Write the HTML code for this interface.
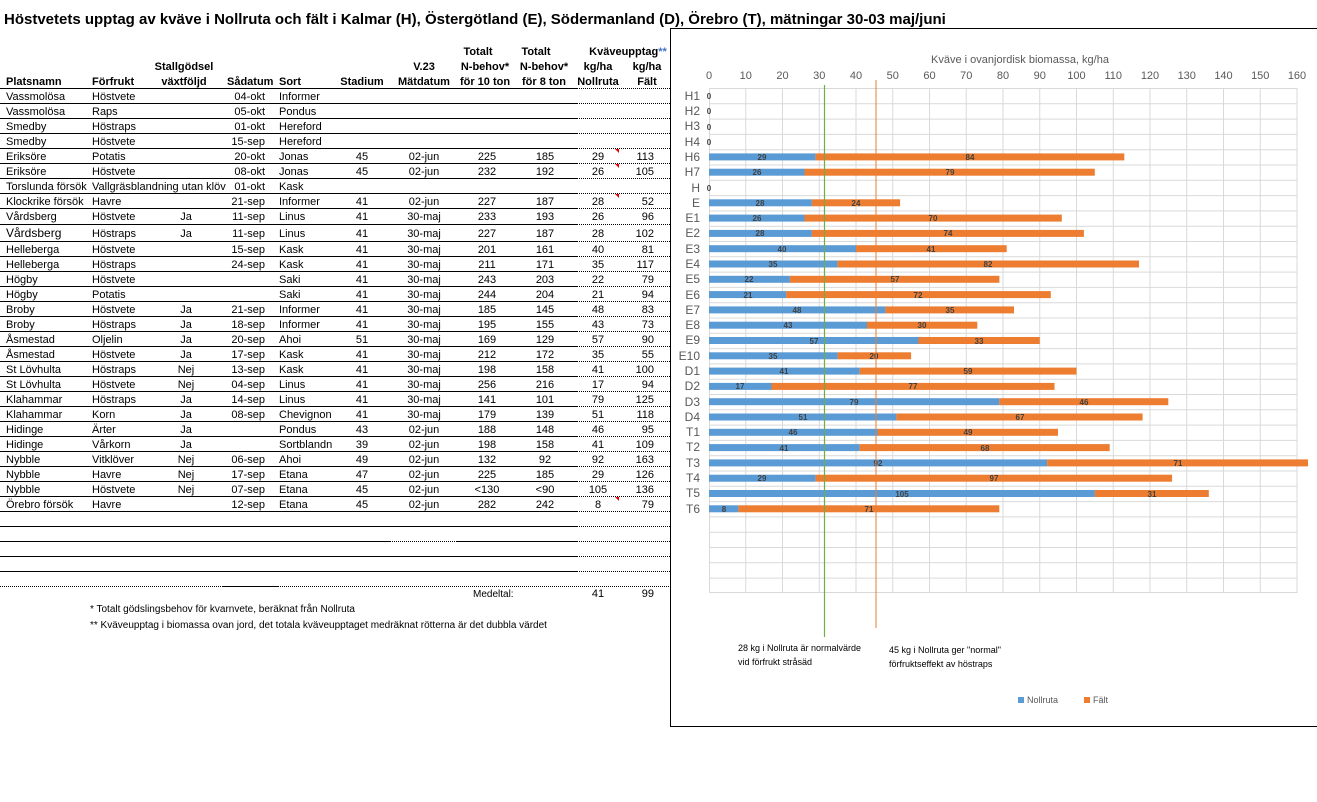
<!DOCTYPE html>
<html><head><meta charset="utf-8"><style>
html,body{margin:0;padding:0;background:#fff}
svg{display:block;font-family:"Liberation Sans",Arial,sans-serif}
.t{font-size:11px;fill:#000}
.h{font-size:11px;font-weight:bold;fill:#000}
.c{text-anchor:middle}
.r{text-anchor:end}
.ax{font-size:11px;fill:#595959}
.cat{font-size:12px;fill:#595959;text-anchor:end}
.bl{font-size:8px;font-weight:bold;fill:#404040;text-anchor:middle}
.an{font-size:9px;fill:#000}
.fn{font-size:10px;fill:#000}
</style></head><body>
<svg width="1317" height="802" viewBox="0 0 1317 802" xmlns="http://www.w3.org/2000/svg">
<text x="4" y="24" style="font-size:15px;font-weight:bold">Höstvetets upptag av kväve i Nollruta och fält i Kalmar (H), Östergötland (E), Södermanland (D), Örebro (T), mätningar 30-03 maj/juni</text>

<g class="h">
<text x="6" y="85">Platsnamn</text>
<text x="92" y="85">Förfrukt</text>
<text x="184" y="70" class="c">Stallgödsel</text>
<text x="184" y="85" class="c">växtföljd</text>
<text x="227" y="85">Sådatum</text>
<text x="279" y="85">Sort</text>
<text x="362" y="85" class="c">Stadium</text>
<text x="424" y="70" class="c">V.23</text>
<text x="424" y="85" class="c">Mätdatum</text>
<text x="478" y="55" class="c">Totalt</text>
<text x="485" y="70" class="c">N-behov*</text>
<text x="485" y="85" class="c">för 10 ton</text>
<text x="536" y="55" class="c">Totalt</text>
<text x="544" y="70" class="c">N-behov*</text>
<text x="544" y="85" class="c">för 8 ton</text>
<text x="628" y="55" class="c">Kväveupptag<tspan fill="#4472c4">**</tspan></text>
<text x="598" y="70" class="c">kg/ha</text>
<text x="598" y="85" class="c">Nollruta</text>
<text x="647" y="70" class="c">kg/ha</text>
<text x="647" y="85" class="c">Fält</text>
</g>

<g stroke="#000" stroke-width="1">
<line x1="0" y1="88.5" x2="577" y2="88.5"/><line x1="0" y1="103.5" x2="577" y2="103.5"/><line x1="0" y1="118.5" x2="577" y2="118.5"/><line x1="0" y1="133.5" x2="577" y2="133.5"/><line x1="0" y1="148.5" x2="577" y2="148.5"/><line x1="0" y1="163.5" x2="577" y2="163.5"/><line x1="0" y1="178.5" x2="577" y2="178.5"/><line x1="0" y1="193.5" x2="577" y2="193.5"/><line x1="0" y1="208.5" x2="577" y2="208.5"/><line x1="0" y1="224.5" x2="577" y2="224.5"/><line x1="0" y1="241.5" x2="577" y2="241.5"/><line x1="0" y1="256.5" x2="577" y2="256.5"/><line x1="0" y1="271.5" x2="577" y2="271.5"/><line x1="0" y1="286.5" x2="577" y2="286.5"/><line x1="0" y1="301.5" x2="577" y2="301.5"/><line x1="0" y1="316.5" x2="577" y2="316.5"/><line x1="0" y1="331.5" x2="577" y2="331.5"/><line x1="0" y1="346.5" x2="577" y2="346.5"/><line x1="0" y1="361.5" x2="577" y2="361.5"/><line x1="0" y1="376.5" x2="577" y2="376.5"/><line x1="0" y1="391.5" x2="577" y2="391.5"/><line x1="0" y1="406.5" x2="577" y2="406.5"/><line x1="0" y1="421.5" x2="577" y2="421.5"/><line x1="0" y1="436.5" x2="577" y2="436.5"/><line x1="0" y1="451.5" x2="577" y2="451.5"/><line x1="0" y1="466.5" x2="577" y2="466.5"/><line x1="0" y1="481.5" x2="577" y2="481.5"/><line x1="0" y1="496.5" x2="577" y2="496.5"/><line x1="0" y1="511.5" x2="577" y2="511.5"/><line x1="0" y1="526.5" x2="577" y2="526.5"/><line x1="0" y1="541.5" x2="390" y2="541.5"/><line x1="456" y1="541.5" x2="577" y2="541.5"/><line x1="0" y1="556.5" x2="577" y2="556.5"/><line x1="0" y1="571.5" x2="577" y2="571.5"/><line x1="223" y1="586.5" x2="278" y2="586.5"/>
</g>
<g stroke="#000" stroke-width="1" stroke-dasharray="1,1">
<line x1="577" y1="88.5" x2="670" y2="88.5"/><line x1="577" y1="103.5" x2="670" y2="103.5"/><line x1="577" y1="118.5" x2="670" y2="118.5"/><line x1="577" y1="133.5" x2="670" y2="133.5"/><line x1="577" y1="148.5" x2="670" y2="148.5"/><line x1="577" y1="163.5" x2="670" y2="163.5"/><line x1="577" y1="178.5" x2="670" y2="178.5"/><line x1="577" y1="193.5" x2="670" y2="193.5"/><line x1="577" y1="208.5" x2="670" y2="208.5"/><line x1="577" y1="224.5" x2="670" y2="224.5"/><line x1="577" y1="241.5" x2="670" y2="241.5"/><line x1="577" y1="256.5" x2="670" y2="256.5"/><line x1="577" y1="271.5" x2="670" y2="271.5"/><line x1="577" y1="286.5" x2="670" y2="286.5"/><line x1="577" y1="301.5" x2="670" y2="301.5"/><line x1="577" y1="316.5" x2="670" y2="316.5"/><line x1="577" y1="331.5" x2="670" y2="331.5"/><line x1="577" y1="346.5" x2="670" y2="346.5"/><line x1="577" y1="361.5" x2="670" y2="361.5"/><line x1="577" y1="376.5" x2="670" y2="376.5"/><line x1="577" y1="391.5" x2="670" y2="391.5"/><line x1="577" y1="406.5" x2="670" y2="406.5"/><line x1="577" y1="421.5" x2="670" y2="421.5"/><line x1="577" y1="436.5" x2="670" y2="436.5"/><line x1="577" y1="451.5" x2="670" y2="451.5"/><line x1="577" y1="466.5" x2="670" y2="466.5"/><line x1="577" y1="481.5" x2="670" y2="481.5"/><line x1="577" y1="496.5" x2="670" y2="496.5"/><line x1="577" y1="511.5" x2="670" y2="511.5"/><line x1="577" y1="526.5" x2="670" y2="526.5"/><line x1="390" y1="541.5" x2="456" y2="541.5"/><line x1="577" y1="541.5" x2="670" y2="541.5"/><line x1="577" y1="556.5" x2="670" y2="556.5"/><line x1="577" y1="571.5" x2="670" y2="571.5"/><line x1="0" y1="586.5" x2="223" y2="586.5"/><line x1="278" y1="586.5" x2="670" y2="586.5"/>
</g>
<g fill="#e00"><path d="M615 149h4v4z"/><path d="M615 164h4v4z"/><path d="M615 194h4v4z"/><path d="M615 497h4v4z"/></g>

<g class="t">
<text x="6" y="100">Vassmolösa</text><text x="92" y="100">Höstvete</text><text x="265" y="100" class="r">04-okt</text><text x="279" y="100">Informer</text>
<text x="6" y="115">Vassmolösa</text><text x="92" y="115">Raps</text><text x="265" y="115" class="r">05-okt</text><text x="279" y="115">Pondus</text>
<text x="6" y="130">Smedby</text><text x="92" y="130">Höstraps</text><text x="265" y="130" class="r">01-okt</text><text x="279" y="130">Hereford</text>
<text x="6" y="145">Smedby</text><text x="92" y="145">Höstvete</text><text x="265" y="145" class="r">15-sep</text><text x="279" y="145">Hereford</text>
<text x="6" y="160">Eriksöre</text><text x="92" y="160">Potatis</text><text x="265" y="160" class="r">20-okt</text><text x="279" y="160">Jonas</text><text x="362" y="160" class="c">45</text><text x="424" y="160" class="c">02-jun</text><text x="487" y="160" class="c">225</text><text x="545" y="160" class="c">185</text><text x="598" y="160" class="c">29</text><text x="654" y="160" class="r">113</text>
<text x="6" y="175">Eriksöre</text><text x="92" y="175">Höstvete</text><text x="265" y="175" class="r">08-okt</text><text x="279" y="175">Jonas</text><text x="362" y="175" class="c">45</text><text x="424" y="175" class="c">02-jun</text><text x="487" y="175" class="c">232</text><text x="545" y="175" class="c">192</text><text x="598" y="175" class="c">26</text><text x="654" y="175" class="r">105</text>
<text x="6" y="190">Torslunda försök</text><text x="92" y="190">Vallgräsblandning utan klöv</text><text x="265" y="190" class="r">01-okt</text><text x="279" y="190">Kask</text>
<text x="6" y="205">Klockrike försök</text><text x="92" y="205">Havre</text><text x="265" y="205" class="r">21-sep</text><text x="279" y="205">Informer</text><text x="362" y="205" class="c">41</text><text x="424" y="205" class="c">02-jun</text><text x="487" y="205" class="c">227</text><text x="545" y="205" class="c">187</text><text x="598" y="205" class="c">28</text><text x="654" y="205" class="r">52</text>
<text x="6" y="220">Vårdsberg</text><text x="92" y="220">Höstvete</text><text x="186" y="220" class="c">Ja</text><text x="265" y="220" class="r">11-sep</text><text x="279" y="220">Linus</text><text x="362" y="220" class="c">41</text><text x="424" y="220" class="c">30-maj</text><text x="487" y="220" class="c">233</text><text x="545" y="220" class="c">193</text><text x="598" y="220" class="c">26</text><text x="654" y="220" class="r">96</text>
<text x="6" y="237" style="font-size:12px">Vårdsberg</text><text x="92" y="237">Höstraps</text><text x="186" y="237" class="c">Ja</text><text x="265" y="237" class="r">11-sep</text><text x="279" y="237">Linus</text><text x="362" y="237" class="c">41</text><text x="424" y="237" class="c">30-maj</text><text x="487" y="237" class="c">227</text><text x="545" y="237" class="c">187</text><text x="598" y="237" class="c">28</text><text x="654" y="237" class="r">102</text>
<text x="6" y="253">Helleberga</text><text x="92" y="253">Höstvete</text><text x="265" y="253" class="r">15-sep</text><text x="279" y="253">Kask</text><text x="362" y="253" class="c">41</text><text x="424" y="253" class="c">30-maj</text><text x="487" y="253" class="c">201</text><text x="545" y="253" class="c">161</text><text x="598" y="253" class="c">40</text><text x="654" y="253" class="r">81</text>
<text x="6" y="268">Helleberga</text><text x="92" y="268">Höstraps</text><text x="265" y="268" class="r">24-sep</text><text x="279" y="268">Kask</text><text x="362" y="268" class="c">41</text><text x="424" y="268" class="c">30-maj</text><text x="487" y="268" class="c">211</text><text x="545" y="268" class="c">171</text><text x="598" y="268" class="c">35</text><text x="654" y="268" class="r">117</text>
<text x="6" y="283">Högby</text><text x="92" y="283">Höstvete</text><text x="279" y="283">Saki</text><text x="362" y="283" class="c">41</text><text x="424" y="283" class="c">30-maj</text><text x="487" y="283" class="c">243</text><text x="545" y="283" class="c">203</text><text x="598" y="283" class="c">22</text><text x="654" y="283" class="r">79</text>
<text x="6" y="298">Högby</text><text x="92" y="298">Potatis</text><text x="279" y="298">Saki</text><text x="362" y="298" class="c">41</text><text x="424" y="298" class="c">30-maj</text><text x="487" y="298" class="c">244</text><text x="545" y="298" class="c">204</text><text x="598" y="298" class="c">21</text><text x="654" y="298" class="r">94</text>
<text x="6" y="313">Broby</text><text x="92" y="313">Höstvete</text><text x="186" y="313" class="c">Ja</text><text x="265" y="313" class="r">21-sep</text><text x="279" y="313">Informer</text><text x="362" y="313" class="c">41</text><text x="424" y="313" class="c">30-maj</text><text x="487" y="313" class="c">185</text><text x="545" y="313" class="c">145</text><text x="598" y="313" class="c">48</text><text x="654" y="313" class="r">83</text>
<text x="6" y="328">Broby</text><text x="92" y="328">Höstraps</text><text x="186" y="328" class="c">Ja</text><text x="265" y="328" class="r">18-sep</text><text x="279" y="328">Informer</text><text x="362" y="328" class="c">41</text><text x="424" y="328" class="c">30-maj</text><text x="487" y="328" class="c">195</text><text x="545" y="328" class="c">155</text><text x="598" y="328" class="c">43</text><text x="654" y="328" class="r">73</text>
<text x="6" y="343">Åsmestad</text><text x="92" y="343">Oljelin</text><text x="186" y="343" class="c">Ja</text><text x="265" y="343" class="r">20-sep</text><text x="279" y="343">Ahoi</text><text x="362" y="343" class="c">51</text><text x="424" y="343" class="c">30-maj</text><text x="487" y="343" class="c">169</text><text x="545" y="343" class="c">129</text><text x="598" y="343" class="c">57</text><text x="654" y="343" class="r">90</text>
<text x="6" y="358">Åsmestad</text><text x="92" y="358">Höstvete</text><text x="186" y="358" class="c">Ja</text><text x="265" y="358" class="r">17-sep</text><text x="279" y="358">Kask</text><text x="362" y="358" class="c">41</text><text x="424" y="358" class="c">30-maj</text><text x="487" y="358" class="c">212</text><text x="545" y="358" class="c">172</text><text x="598" y="358" class="c">35</text><text x="654" y="358" class="r">55</text>
<text x="6" y="373">St Lövhulta</text><text x="92" y="373">Höstraps</text><text x="186" y="373" class="c">Nej</text><text x="265" y="373" class="r">13-sep</text><text x="279" y="373">Kask</text><text x="362" y="373" class="c">41</text><text x="424" y="373" class="c">30-maj</text><text x="487" y="373" class="c">198</text><text x="545" y="373" class="c">158</text><text x="598" y="373" class="c">41</text><text x="654" y="373" class="r">100</text>
<text x="6" y="388">St Lövhulta</text><text x="92" y="388">Höstvete</text><text x="186" y="388" class="c">Nej</text><text x="265" y="388" class="r">04-sep</text><text x="279" y="388">Linus</text><text x="362" y="388" class="c">41</text><text x="424" y="388" class="c">30-maj</text><text x="487" y="388" class="c">256</text><text x="545" y="388" class="c">216</text><text x="598" y="388" class="c">17</text><text x="654" y="388" class="r">94</text>
<text x="6" y="403">Klahammar</text><text x="92" y="403">Höstraps</text><text x="186" y="403" class="c">Ja</text><text x="265" y="403" class="r">14-sep</text><text x="279" y="403">Linus</text><text x="362" y="403" class="c">41</text><text x="424" y="403" class="c">30-maj</text><text x="487" y="403" class="c">141</text><text x="545" y="403" class="c">101</text><text x="598" y="403" class="c">79</text><text x="654" y="403" class="r">125</text>
<text x="6" y="418">Klahammar</text><text x="92" y="418">Korn</text><text x="186" y="418" class="c">Ja</text><text x="265" y="418" class="r">08-sep</text><text x="279" y="418">Chevignon</text><text x="362" y="418" class="c">41</text><text x="424" y="418" class="c">30-maj</text><text x="487" y="418" class="c">179</text><text x="545" y="418" class="c">139</text><text x="598" y="418" class="c">51</text><text x="654" y="418" class="r">118</text>
<text x="6" y="433">Hidinge</text><text x="92" y="433">Ärter</text><text x="186" y="433" class="c">Ja</text><text x="279" y="433">Pondus</text><text x="362" y="433" class="c">43</text><text x="424" y="433" class="c">02-jun</text><text x="487" y="433" class="c">188</text><text x="545" y="433" class="c">148</text><text x="598" y="433" class="c">46</text><text x="654" y="433" class="r">95</text>
<text x="6" y="448">Hidinge</text><text x="92" y="448">Vårkorn</text><text x="186" y="448" class="c">Ja</text><text x="279" y="448">Sortblandn</text><text x="362" y="448" class="c">39</text><text x="424" y="448" class="c">02-jun</text><text x="487" y="448" class="c">198</text><text x="545" y="448" class="c">158</text><text x="598" y="448" class="c">41</text><text x="654" y="448" class="r">109</text>
<text x="6" y="463">Nybble</text><text x="92" y="463">Vitklöver</text><text x="186" y="463" class="c">Nej</text><text x="265" y="463" class="r">06-sep</text><text x="279" y="463">Ahoi</text><text x="362" y="463" class="c">49</text><text x="424" y="463" class="c">02-jun</text><text x="487" y="463" class="c">132</text><text x="545" y="463" class="c">92</text><text x="598" y="463" class="c">92</text><text x="654" y="463" class="r">163</text>
<text x="6" y="478">Nybble</text><text x="92" y="478">Havre</text><text x="186" y="478" class="c">Nej</text><text x="265" y="478" class="r">17-sep</text><text x="279" y="478">Etana</text><text x="362" y="478" class="c">47</text><text x="424" y="478" class="c">02-jun</text><text x="487" y="478" class="c">225</text><text x="545" y="478" class="c">185</text><text x="598" y="478" class="c">29</text><text x="654" y="478" class="r">126</text>
<text x="6" y="493">Nybble</text><text x="92" y="493">Höstvete</text><text x="186" y="493" class="c">Nej</text><text x="265" y="493" class="r">07-sep</text><text x="279" y="493">Etana</text><text x="362" y="493" class="c">45</text><text x="424" y="493" class="c">02-jun</text><text x="487" y="493" class="c">&lt;130</text><text x="545" y="493" class="c">&lt;90</text><text x="598" y="493" class="c">105</text><text x="654" y="493" class="r">136</text>
<text x="6" y="508">Örebro försök</text><text x="92" y="508">Havre</text><text x="265" y="508" class="r">12-sep</text><text x="279" y="508">Etana</text><text x="362" y="508" class="c">45</text><text x="424" y="508" class="c">02-jun</text><text x="487" y="508" class="c">282</text><text x="545" y="508" class="c">242</text><text x="598" y="508" class="c">8</text><text x="654" y="508" class="r">79</text>
<text x="473" y="597" style="font-size:10px">Medeltal:</text><text x="598" y="597" class="c">41</text><text x="654" y="597" class="r">99</text>
</g>
<text x="90" y="612" class="fn">* Totalt gödslingsbehov för  kvarnvete, beräknat från Nollruta</text>
<text x="90" y="628" class="fn">** Kväveupptag i biomassa ovan jord, det totala kväveupptaget medräknat rötterna är det dubbla värdet</text>

<g stroke="#000" stroke-width="1">
<line x1="670.5" y1="28" x2="670.5" y2="727"/><line x1="670" y1="28.5" x2="1317" y2="28.5"/><line x1="670" y1="726.5" x2="1317" y2="726.5"/>
</g>
<text x="1020" y="63" class="ax c">Kväve i ovanjordisk biomassa, kg/ha</text>
<g class="ax c">
<text x="709" y="79">0</text><text x="745.75" y="79">10</text><text x="782.5" y="79">20</text><text x="819.25" y="79">30</text><text x="856" y="79">40</text><text x="892.75" y="79">50</text><text x="929.5" y="79">60</text><text x="966.25" y="79">70</text><text x="1003" y="79">80</text><text x="1039.75" y="79">90</text><text x="1076.5" y="79">100</text><text x="1113.25" y="79">110</text><text x="1150" y="79">120</text><text x="1186.75" y="79">130</text><text x="1223.5" y="79">140</text><text x="1260.25" y="79">150</text><text x="1297" y="79">160</text>
</g>
<g stroke="#d9d9d9" stroke-width="1">
<path d="M709.5 88V593M745.75 88V593M782.5 88V593M819.25 88V593M856 88V593M892.75 88V593M929.5 88V593M966.25 88V593M1003 88V593M1039.75 88V593M1076.5 88V593M1113.25 88V593M1150 88V593M1186.75 88V593M1223.5 88V593M1260.25 88V593M1297 88V593"/>
<path d="M709 88.5H1297M709 103.8H1297M709 119.1H1297M709 134.4H1297M709 149.7H1297M709 165H1297M709 180.3H1297M709 195.6H1297M709 210.9H1297M709 226.2H1297M709 241.5H1297M709 256.8H1297M709 272.1H1297M709 287.4H1297M709 302.7H1297M709 318H1297M709 333.3H1297M709 348.6H1297M709 363.9H1297M709 379.2H1297M709 394.5H1297M709 409.8H1297M709 425.1H1297M709 440.4H1297M709 455.7H1297M709 471H1297M709 486.3H1297M709 501.6H1297M709 516.9H1297M709 532.2H1297M709 547.5H1297M709 562.8H1297M709 578.1H1297M709 592.5H1297"/>
</g>
<g class="cat">
<text x="700" y="100">H1</text><text x="700" y="115">H2</text><text x="700" y="130">H3</text><text x="700" y="146">H4</text><text x="700" y="161">H6</text><text x="700" y="176">H7</text><text x="700" y="192">H</text><text x="700" y="207">E</text><text x="700" y="222">E1</text><text x="700" y="237">E2</text><text x="700" y="253">E3</text><text x="700" y="268">E4</text><text x="700" y="283">E5</text><text x="700" y="299">E6</text><text x="700" y="314">E7</text><text x="700" y="329">E8</text><text x="700" y="344">E9</text><text x="700" y="360">E10</text><text x="700" y="375">D1</text><text x="700" y="390">D2</text><text x="700" y="406">D3</text><text x="700" y="421">D4</text><text x="700" y="436">T1</text><text x="700" y="451">T2</text><text x="700" y="467">T3</text><text x="700" y="482">T4</text><text x="700" y="497">T5</text><text x="700" y="513">T6</text>
</g>
<g fill="#5b9bd5">
<rect x="709" y="153.4" width="106.6" height="7"/><rect x="709" y="168.7" width="95.5" height="7"/><rect x="709" y="199.3" width="102.9" height="7"/><rect x="709" y="214.6" width="95.5" height="7"/><rect x="709" y="229.9" width="102.9" height="7"/><rect x="709" y="245.2" width="147" height="7"/><rect x="709" y="260.5" width="128.6" height="7"/><rect x="709" y="275.8" width="80.9" height="7"/><rect x="709" y="291.1" width="77.2" height="7"/><rect x="709" y="306.4" width="176.4" height="7"/><rect x="709" y="321.7" width="158" height="7"/><rect x="709" y="337" width="209.5" height="7"/><rect x="709" y="352.3" width="128.6" height="7"/><rect x="709" y="367.6" width="150.7" height="7"/><rect x="709" y="382.9" width="62.5" height="7"/><rect x="709" y="398.2" width="290.3" height="7"/><rect x="709" y="413.5" width="187.4" height="7"/><rect x="709" y="428.8" width="169" height="7"/><rect x="709" y="444.1" width="150.7" height="7"/><rect x="709" y="459.4" width="338.1" height="7"/><rect x="709" y="474.7" width="106.6" height="7"/><rect x="709" y="490" width="385.9" height="7"/><rect x="709" y="505.3" width="29.4" height="7"/>
</g>
<g fill="#ed7d31">
<rect x="815.6" y="153.4" width="308.7" height="7"/><rect x="804.5" y="168.7" width="290.3" height="7"/><rect x="811.9" y="199.3" width="88.2" height="7"/><rect x="804.5" y="214.6" width="257.3" height="7"/><rect x="811.9" y="229.9" width="272" height="7"/><rect x="856" y="245.2" width="150.7" height="7"/><rect x="837.6" y="260.5" width="301.4" height="7"/><rect x="789.9" y="275.8" width="209.5" height="7"/><rect x="786.2" y="291.1" width="264.6" height="7"/><rect x="885.4" y="306.4" width="128.6" height="7"/><rect x="867" y="321.7" width="110.3" height="7"/><rect x="918.5" y="337" width="121.3" height="7"/><rect x="837.6" y="352.3" width="73.5" height="7"/><rect x="859.7" y="367.6" width="216.8" height="7"/><rect x="771.5" y="382.9" width="283" height="7"/><rect x="999.3" y="398.2" width="169" height="7"/><rect x="896.4" y="413.5" width="246.2" height="7"/><rect x="878" y="428.8" width="180" height="7"/><rect x="859.7" y="444.1" width="250" height="7"/><rect x="1047.1" y="459.4" width="260.9" height="7"/><rect x="815.6" y="474.7" width="356.5" height="7"/><rect x="1094.9" y="490" width="113.9" height="7"/><rect x="738.4" y="505.3" width="260.9" height="7"/>
</g>
<g class="bl">
<text x="709" y="99">0</text><text x="709" y="114">0</text><text x="709" y="130">0</text><text x="709" y="145">0</text><text x="709" y="191">0</text>
<text x="762" y="160">29</text><text x="970" y="160">84</text>
<text x="757" y="175">26</text><text x="950" y="175">79</text>
<text x="760" y="206">28</text><text x="856" y="206">24</text>
<text x="757" y="221">26</text><text x="933" y="221">70</text>
<text x="760" y="236">28</text><text x="948" y="236">74</text>
<text x="782" y="252">40</text><text x="931" y="252">41</text>
<text x="773" y="267">35</text><text x="988" y="267">82</text>
<text x="749" y="282">22</text><text x="895" y="282">57</text>
<text x="748" y="298">21</text><text x="918" y="298">72</text>
<text x="797" y="313">48</text><text x="950" y="313">35</text>
<text x="788" y="328">43</text><text x="922" y="328">30</text>
<text x="814" y="344">57</text><text x="979" y="344">33</text>
<text x="773" y="359">35</text><text x="874" y="359">20</text>
<text x="784" y="374">41</text><text x="968" y="374">59</text>
<text x="740" y="389">17</text><text x="913" y="389">77</text>
<text x="854" y="405">79</text><text x="1084" y="405">46</text>
<text x="803" y="420">51</text><text x="1020" y="420">67</text>
<text x="793" y="435">46</text><text x="968" y="435">49</text>
<text x="784" y="451">41</text><text x="985" y="451">68</text>
<text x="878" y="466">92</text><text x="1178" y="466">71</text>
<text x="762" y="481">29</text><text x="994" y="481">97</text>
<text x="902" y="497">105</text><text x="1152" y="497">31</text>
<text x="724" y="512">8</text><text x="869" y="512">71</text>
</g>
<line x1="824.5" y1="85" x2="824.5" y2="637" stroke="#70ad47" stroke-width="1.2"/>
<line x1="876" y1="80" x2="876" y2="628" stroke="#ed7d31" stroke-width="1"/>
<text x="738" y="651" class="an">28 kg i Nollruta är normalvärde</text>
<text x="738" y="665" class="an">vid förfrukt stråsäd</text>
<text x="889" y="653" class="an">45 kg i Nollruta ger "normal"</text>
<text x="889" y="667" class="an">förfruktseffekt av höstraps</text>
<rect x="1018" y="697" width="6" height="6" fill="#5b9bd5"/><text x="1027" y="703" style="font-size:9px;fill:#595959">Nollruta</text>
<rect x="1084" y="697" width="6" height="6" fill="#ed7d31"/><text x="1093" y="703" style="font-size:9px;fill:#595959">Fält</text>
</svg>
</body></html>
